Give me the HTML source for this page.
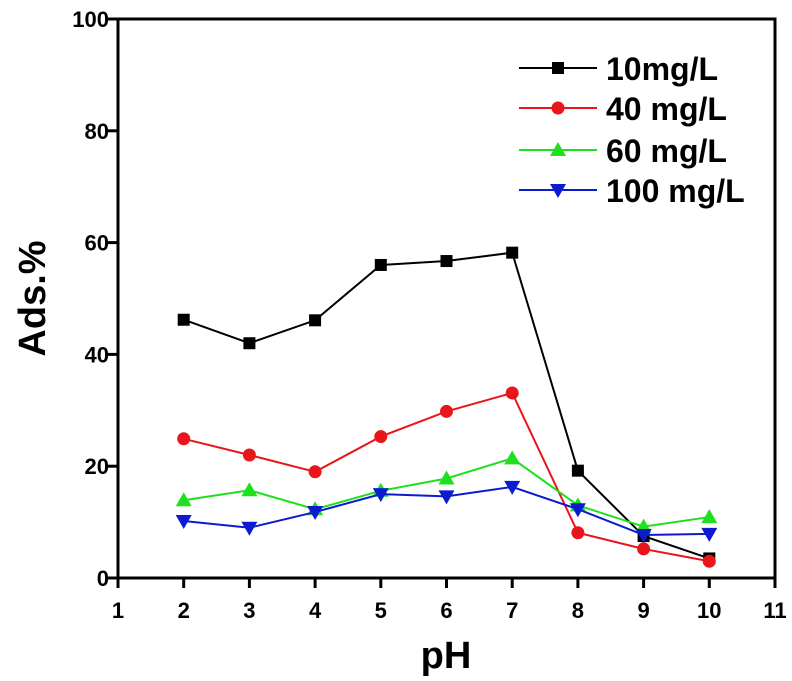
<!DOCTYPE html>
<html><head><meta charset="utf-8"><style>
html,body{margin:0;padding:0;background:#fff;width:792px;height:681px;overflow:hidden}
svg text{font-family:"Liberation Sans",Arial,sans-serif;font-weight:bold}
</style></head><body>
<svg id="chart" width="792" height="681" viewBox="0 0 792 681" xmlns="http://www.w3.org/2000/svg"></svg>
<script>
const phValues = [2,3,4,5,6,7,8,9,10];
const seriesNames = ["10mg/L","40 mg/L","60 mg/L","100 mg/L"];
const series10 = [46.2,42,46.1,56,56.7,58.2,19.2,7.5,3.5];
const series40 = [24.9,22,19,25.3,29.8,33.1,8.1,5.2,3];
const series60 = [13.9,15.7,12.3,15.6,17.8,21.4,13,9.2,10.9];
const series100 = [10.2,9,11.8,15,14.6,16.3,12.3,7.7,7.9];
const xTicks = [1,2,3,4,5,6,7,8,9,10,11];
const yTicks = [0,20,40,60,80,100];

const NS="http://www.w3.org/2000/svg";
const svg=document.getElementById('chart');
const L=118,R=775,T=19,B=578;
const xS=v=>L+(v-1)/(11-1)*(R-L);
const yS=v=>B-v/100*(B-T);
function mk(tag,attrs,parent){const e=document.createElementNS(NS,tag);for(const k in attrs)e.setAttribute(k,attrs[k]);(parent||svg).appendChild(e);return e;}

const frame=mk('rect',{x:L,y:T,width:R-L,height:B-T,fill:'none',stroke:'#000','stroke-width':3});



xTicks.forEach(t=>{
  const x=xS(t);
  const l=mk('line',{x1:x,y1:B,x2:x,y2:B+10,stroke:'#000','stroke-width':3});
  
  
  const tx=mk('text',{x:x,y:B+40,'text-anchor':'middle','font-size':22});
  tx.textContent=t;
  
  
});
yTicks.forEach(t=>{
  const y=yS(t);
  const l=mk('line',{x1:L-12,y1:y,x2:L,y2:y,stroke:'#000','stroke-width':3});
  
  
  const tx=mk('text',{x:L-9,y:y+8,'text-anchor':'end','font-size':22});
  tx.textContent=t;
  
  
});
const xt=mk('text',{x:446,y:668,'text-anchor':'middle','font-size':38});
xt.textContent='pH';


const yt=mk('text',{x:0,y:0,'text-anchor':'middle','font-size':38,transform:`translate(45,${(T+B)/2}) rotate(-90)`});
yt.textContent='Ads.%';



const colors=['#000','#e8161b','#1ee01e','#0c1ad0'];
const allSeries=[series10,series40,series60,series100];
function marker(kind,cx,cy,color,g){
  let m;
  if(kind===0) m=mk('rect',{x:cx-6,y:cy-6,width:12,height:12,fill:color},g);
  else if(kind===1) m=mk('circle',{cx:cx,cy:cy,r:6.5,fill:color},g);
  else if(kind===2) m=mk('polygon',{points:`${cx},${cy-8} ${cx-8},${cy+6} ${cx+8},${cy+6}`,fill:color},g);
  else m=mk('polygon',{points:`${cx},${cy+8} ${cx-8},${cy-6} ${cx+8},${cy-6}`,fill:color},g);
  return m;
}
allSeries.forEach((s,i)=>{
  const g=mk('g',{});
  
  
  const pts=s.map((v,j)=>xS(phValues[j])+','+yS(v)).join(' ');
  mk('polyline',{points:pts,fill:'none',stroke:colors[i],'stroke-width':2},g);
  s.forEach((v,j)=>{
    const m=marker(i,xS(phValues[j]),yS(v),colors[i],g);
    
    
  });
});
const ly0=[68,108,150,190];
seriesNames.forEach((n,i)=>{
  const g=mk('g',{});
  
  
  const y=ly0[i];
  mk('line',{x1:519,y1:y,x2:597,y2:y,stroke:colors[i],'stroke-width':2},g);
  marker(i,558,y,colors[i],g);
  const t=mk('text',{x:606,y:y+12,'font-size':32},g);
  t.textContent=n;
});
</script>
</body></html>
